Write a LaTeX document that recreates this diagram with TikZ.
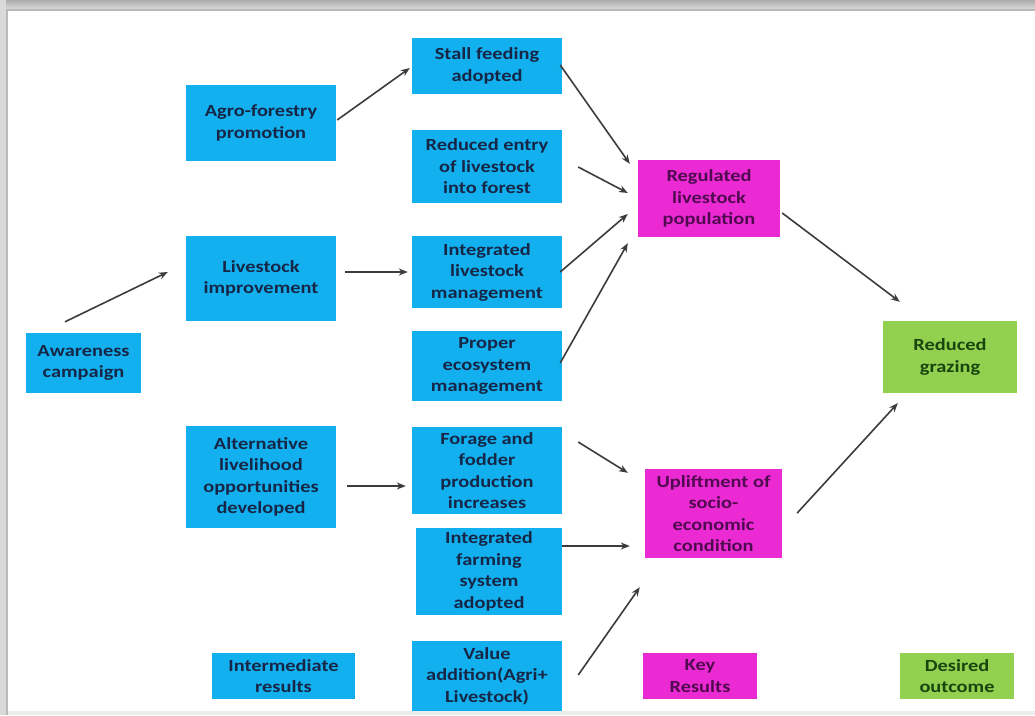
\documentclass[tikz,border=0pt]{standalone}
\usepackage{fontspec}
\newfontfamily\boxfont{Carlito}[FakeStretch=1.2]
\usetikzlibrary{arrows.meta}
\definecolor{bluebox}{RGB}{18,176,238}
\definecolor{magbox}{RGB}{236,42,212}
\definecolor{greenbox}{RGB}{146,208,80}
\definecolor{bluetext}{RGB}{22,38,70}
\definecolor{magtext}{RGB}{80,10,80}
\definecolor{greentext}{RGB}{25,70,15}
\definecolor{arrowc}{RGB}{60,60,60}
\begin{document}
\begin{tikzpicture}[x=1pt,y=-1pt,
  box/.style={inner sep=0pt, align=center,
    font=\boxfont\bfseries\fontsize{17}{21.5}\selectfont},
  bbox/.style={box, fill=bluebox, text=bluetext},
  mbox/.style={box, fill=magbox, text=magtext},
  gbox/.style={box, fill=greenbox, text=greentext},
  arr/.style={draw=arrowc, line width=1.6pt, -{Stealth[length=9pt,width=7pt]}}]
\useasboundingbox (0,0) rectangle (1035,715);
\fill[white] (0,0) rectangle (1035,715);
% frame
\fill[top color=gray!65, bottom color=gray!30] (0,0) rectangle (1035,9);
\fill[gray!55] (0,9) rectangle (1035,11);
\fill[gray!30] (0,0) rectangle (6,715);
\fill[gray!55] (6,9) rectangle (8,715);
\fill[gray!15] (8,711) rectangle (1035,715);
% nodes
\node[bbox, minimum width=115pt, minimum height=60pt] (aw) at (83.5,363) {Awareness\\campaign};
\node[bbox, minimum width=150pt, minimum height=76pt] (af) at (261,123) {Agro-forestry\\promotion};
\node[bbox, minimum width=150pt, minimum height=85pt] (li) at (261,278.5) {Livestock\\improvement};
\node[bbox, minimum width=150pt, minimum height=102pt] (al) at (261,477) {Alternative\\livelihood\\opportunities\\developed};
\node[bbox, minimum width=143pt, minimum height=46pt] (ir) at (283.5,676) {Intermediate\\results};
\node[bbox, minimum width=150pt, minimum height=56pt] (sf) at (487,66) {Stall feeding\\adopted};
\node[bbox, minimum width=150pt, minimum height=73pt] (re) at (487,166.5) {Reduced entry\\of livestock\\into forest};
\node[bbox, minimum width=150pt, minimum height=72pt] (il) at (487,272) {Integrated\\livestock\\management};
\node[bbox, minimum width=150pt, minimum height=70pt] (pe) at (487,366) {Proper\\ecosystem\\management};
\node[bbox, minimum width=150pt, minimum height=87pt] (ff) at (487,470.5) {Forage and\\fodder\\production\\increases};
\node[bbox, minimum width=146pt, minimum height=87pt] (ifs) at (489,571.5) {Integrated\\farming\\system\\adopted};
\node[bbox, minimum width=150pt, minimum height=70pt] (va) at (487,676) {Value\\addition(Agri+\\Livestock)};
\node[mbox, minimum width=142pt, minimum height=77pt] (rl) at (709,198.5) {Regulated\\livestock\\population};
\node[mbox, minimum width=137pt, minimum height=89pt] (up) at (713.5,513.5) {Upliftment of\\socio-\\economic\\condition};
\node[mbox, minimum width=114pt, minimum height=46pt] (kr) at (700,676) {Key\\Results};
\node[gbox, minimum width=134pt, minimum height=72pt] (rg) at (950,357) {Reduced\\grazing};
\node[gbox, minimum width=114pt, minimum height=46pt] (do) at (957,676) {Desired\\outcome};
% connectors
\draw[arr] ([shift={(-18.5,-11)}]aw.north) -- ([shift={(-18,-6.5)}]li.west);
\draw[arr] ([shift={(1,-3)}]af.east) -- ([shift={(-2,2)}]sf.west);
\draw[arr] ([shift={(9,-6.5)}]li.east) -- ([shift={(-4,0)}]il.west);
\draw[arr] ([shift={(11,9)}]al.east) -- ([shift={(-6,15.5)}]ff.west);
\draw[arr] ([shift={(-2,-1)}]sf.east) -- ([shift={(-8,4)}]rl.north west);
\draw[arr] ([shift={(16,0.5)}]re.east) -- ([shift={(-10,-5.5)}]rl.west);
\draw[arr] ([shift={(-2,0)}]il.east) -- ([shift={(-10,15.5)}]rl.west);
\draw[arr] ([shift={(-2,-3)}]pe.east) -- ([shift={(-10,6)}]rl.south west);
\draw[arr] ([shift={(16,-28.5)}]ff.east) -- ([shift={(-17,4)}]up.north west);
\draw[arr] ([shift={(0,-25.5)}]ifs.east) -- ([shift={(-15,32.5)}]up.west);
\draw[arr] ([shift={(16,-1)}]va.east) -- ([shift={(-5,29)}]up.south west);
\draw[arr] ([shift={(2,14.5)}]rl.east) -- ([shift={(17,-19)}]rg.north west);
\draw[arr] ([shift={(15,-0.5)}]up.east) -- ([shift={(15,10)}]rg.south west);
\end{tikzpicture}
\end{document}
